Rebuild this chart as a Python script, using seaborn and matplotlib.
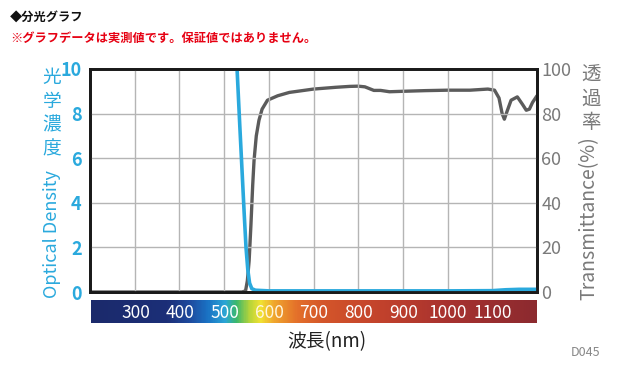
import numpy as np
import pandas as pd
import matplotlib
matplotlib.use("Agg")
import matplotlib.pyplot as plt
from matplotlib.colors import LinearSegmentedColormap
import seaborn as sns

# ---- data ----
od_wl = [515, 529, 535, 540, 545, 549, 553, 557, 562, 570, 600, 800, 1000, 1100, 1130, 1160, 1200]
od_val = [14.0, 10.0, 7.5, 5.5, 3.5, 2.0, 1.0, 0.4, 0.15, 0.08, 0.05, 0.05, 0.05, 0.06, 0.1, 0.12, 0.12]

t_wl = [200, 540, 548, 552, 556, 560, 564, 567, 572, 578, 585, 597, 620, 646, 700, 750, 781,
        800, 815, 825, 835, 850, 870, 900, 950, 1000, 1050, 1090, 1105, 1115, 1122, 1127,
        1133, 1142, 1156, 1168, 1176, 1183, 1190, 1200]
t_val = [0, 0, 0.5, 5, 14, 30, 48, 59, 70, 77, 82, 86, 88, 89.5, 91, 91.8, 92.2,
         92.3, 92, 91.2, 90.4, 90.4, 89.8, 90, 90.3, 90.5, 90.5, 91, 90.5, 87, 80, 77.5,
         81, 86, 87.5, 84, 81.5, 82, 85, 88]

wl_ticks = [300, 400, 500, 600, 700, 800, 900, 1000, 1100]
od_ticks = [0, 2, 4, 6, 8, 10]
t_ticks = [0, 20, 40, 60, 80, 100]

spec_pos = [200, 370, 420, 460, 500, 525, 555, 580, 610, 660, 720, 850, 1000, 1200]
spec_col = ["#1b2a6b", "#1c2f78", "#1e4a9e", "#1a72c4", "#2ba6d6", "#3bb86c", "#b6d43a",
            "#f1e233", "#f0a62e", "#e4712a", "#d4562a", "#c2422c", "#a8322f", "#8c2a2f"]

CYAN = "#2aa9dd"
GRAY = "#5b5b5b"

sns.set_style("white")
plt.rcParams["font.family"] = ["Noto Sans CJK JP", "DejaVu Sans"]

W, H = 640, 368
fig = plt.figure(figsize=(6.4, 3.68), dpi=100)

def fx(x):
    return x / W

def fy(y):
    return 1 - y / H

ax = fig.add_axes([fx(90), fy(292), fx(537 - 90), (292 - 69) / H])
ax2 = ax.twinx()

df_od = pd.DataFrame({"wl": od_wl, "od": od_val})
df_t = pd.DataFrame({"wl": t_wl, "t": t_val})

sns.lineplot(data=df_t, x="wl", y="t", ax=ax2, color=GRAY, lw=2.4)
sns.lineplot(data=df_od, x="wl", y="od", ax=ax, color=CYAN, lw=2.6)

ax.set_zorder(ax2.get_zorder() + 1)
ax.patch.set_visible(False)

ax.set_xlim(200, 1200)
ax.set_ylim(0, 10)
ax2.set_ylim(0, 100)
ax.set_xticks(wl_ticks)
ax.set_xticklabels([])
ax.set_yticks(od_ticks)
ax2.set_yticks(t_ticks)
ax.set_xlabel("")
ax.set_ylabel("")
ax2.set_ylabel("")
ax2.grid(False)
ax.grid(True, color="#b5b5b5", lw=1.0)

ax.tick_params(axis="both", length=0)
ax2.tick_params(axis="both", length=0)
ax.tick_params(axis="y", colors=CYAN, labelsize=13, pad=6)
for lb in ax.get_yticklabels():
    lb.set_fontweight("bold")
ax2.tick_params(axis="y", colors="#7a7a7a", labelsize=13, pad=3)

for a in (ax, ax2):
    for s in a.spines.values():
        s.set_visible(True)
        s.set_color("#1a1a1a")
        s.set_linewidth(2.0)

# spectrum bar
cmap = LinearSegmentedColormap.from_list(
    "spec", [((p - 200) / 1000, c) for p, c in zip(spec_pos, spec_col)])
cax = fig.add_axes([fx(91), fy(323), fx(537 - 91), 23 / H])
grad = np.linspace(200, 1200, 600).reshape(1, -1)
cax.imshow(grad, aspect="auto", cmap=cmap, extent=[200, 1200, 0, 1], vmin=200, vmax=1200)
cax.set_xlim(200, 1200)
cax.set_ylim(0, 1)
cax.axis("off")
for w in wl_ticks:
    cax.text(w, 0.45, str(w), color="#fff6e0" if w == 600 else "white",
             ha="center", va="center", fontsize=12.5)

# titles
fig.text(fx(10), fy(17), "◆分光グラフ", fontsize=8.8, fontweight="bold",
         color="#111111", va="center", ha="left")
fig.text(fx(10), fy(38), "※グラフデータは実測値です。保証値ではありません。", fontsize=8.8,
         fontweight="bold", color="#e60012", va="center", ha="left")

# left axis label
fig.text(fx(52), fy(67), "\n".join("光学濃度"), fontsize=13.5, color=CYAN,
         ha="center", va="top", linespacing=1.18)
fig.text(fx(52), fy(234), "Optical Density", fontsize=13, color=CYAN,
         ha="center", va="center", rotation=90)

# right axis label
fig.text(fx(591), fy(65), "\n".join("透過率"), fontsize=14, color="#7a7a7a",
         ha="center", va="top", linespacing=1.15)
fig.text(fx(589), fy(218), "Transmittance(%)", fontsize=14, color="#7a7a7a",
         ha="center", va="center", rotation=90)

fig.text(fx(327), fy(342), "波長(nm)", fontsize=13.5, color="#222222",
         ha="center", va="center")
fig.text(fx(586), fy(353), "D045", fontsize=9, color="#888888",
         ha="center", va="center")

fig.savefig("out.png", dpi=100)
